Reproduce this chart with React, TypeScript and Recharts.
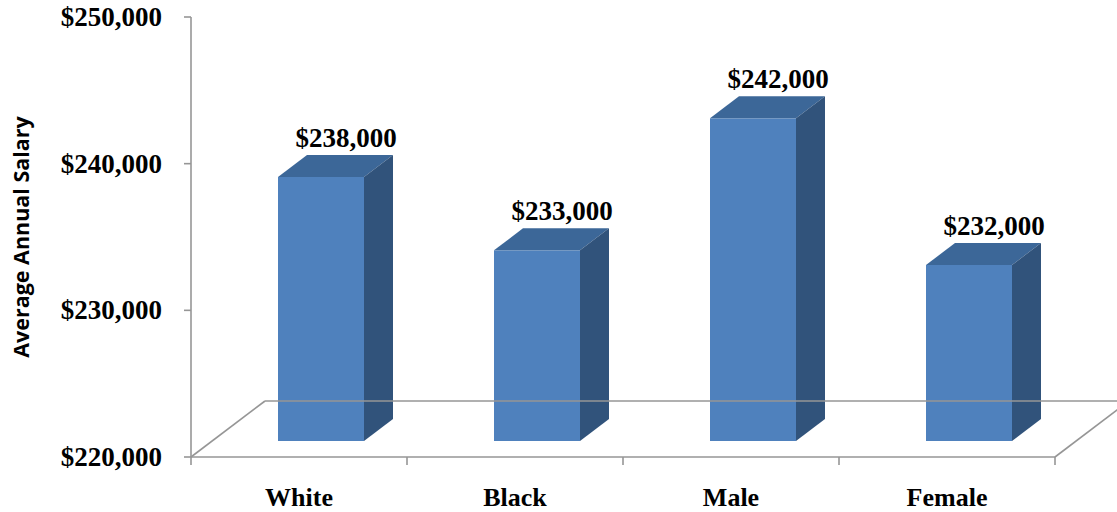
import React from 'react'
import { BarChart, Bar, XAxis, YAxis } from 'recharts'

const categories = ['White', 'Black', 'Male', 'Female']
const salaries = [238000, 233000, 242000, 232000]
const yTicks = [220000, 230000, 240000, 250000]

const data = categories.map((name, i) => ({ name, salary: salaries[i] }))

const FRONT = '#4F81BD'
const TOP = '#3C6798'
const SIDE = '#31537B'
const GRID = '#969696'
const SERIF = '"Liberation Serif", "Times New Roman", serif'

// floor depth and bar depth (pseudo 3D)
const FLOOR_DX = 74
const FLOOR_DY = 56
const SHIFT_X = 22
const SHIFT_Y = 16
const DEPTH_X = 29
const DEPTH_Y = 22

const money = (v: number) => '$' + v.toLocaleString('en-US')

function Bar3D(props: any) {
  const { x, y, width, height, payload } = props
  const fx = x + SHIFT_X
  const fy = y - SHIFT_Y
  const top = `${fx},${fy} ${fx + width},${fy} ${fx + width + DEPTH_X},${fy - DEPTH_Y} ${fx + DEPTH_X},${fy - DEPTH_Y}`
  const side = `${fx + width},${fy} ${fx + width + DEPTH_X},${fy - DEPTH_Y} ${fx + width + DEPTH_X},${fy + height - DEPTH_Y} ${fx + width},${fy + height}`
  return (
    <g>
      <rect x={fx} y={fy} width={width} height={height} fill={FRONT} />
      <polygon points={top} fill={TOP} />
      <polygon points={side} fill={SIDE} />
      <text
        x={fx + width / 2 + 25}
        y={fy - 30}
        textAnchor="middle"
        fontFamily={SERIF}
        fontWeight="bold"
        fontSize={27}
        fill="#000"
      >
        {money(payload.salary)}
      </text>
    </g>
  )
}

function XTick(props: any) {
  const { x, y, payload, index } = props
  const off = payload.offset ?? 108
  const n = categories.length
  const x0 = x - off
  const floor = index === 0 ? (() => {
    const x1 = x0 + off * 2 * n
    return (
      <g stroke={GRID} strokeWidth={1.6} fill="none">
        <line x1={x0} y1={y} x2={x0 + FLOOR_DX} y2={y - FLOOR_DY} />
        <line x1={x0 + FLOOR_DX} y1={y - FLOOR_DY} x2={x1 + FLOOR_DX} y2={y - FLOOR_DY} />
        <line x1={x1} y1={y} x2={x1 + FLOOR_DX} y2={y - FLOOR_DY} />
      </g>
    )
  })() : null
  return (
    <g>
      {floor}
      <line x1={x0} y1={y} x2={x0} y2={y + 8} stroke={GRID} strokeWidth={1.6} />
      {index === n - 1 && (
        <line x1={x + off} y1={y} x2={x + off} y2={y + 8} stroke={GRID} strokeWidth={1.6} />
      )}
      <text
        x={x}
        y={y + 40}
        textAnchor="middle"
        dominantBaseline="central"
        fontFamily={SERIF}
        fontWeight="bold"
        fontSize={26}
        fill="#000"
      >
        {payload.value}
      </text>
    </g>
  )
}

function YTick(props: any) {
  const { x, y, payload } = props
  return (
    <text
      x={x}
      y={y}
      textAnchor="end"
      dominantBaseline="central"
      fontFamily={SERIF}
      fontWeight="bold"
      fontSize={27}
      fill="#000"
    >
      {money(payload.value)}
    </text>
  )
}

function YTitle(props: any) {
  const { viewBox } = props
  const cx = viewBox.x + 20
  const cy = viewBox.y + viewBox.height / 2
  return (
    <text
      x={cx}
      y={cy}
      transform={`rotate(-90, ${cx}, ${cy})`}
      textAnchor="middle"
      dominantBaseline="central"
      fontFamily='"Open Sans", "Liberation Sans", sans-serif'
      fontWeight="bold"
      fontSize={21.5}
      fill="#000"
    >
      Average Annual Salary
    </text>
  )
}

export default function App() {
  return (
    <div style={{ position: 'absolute', left: 0, top: 0, width: 1117, height: 512, background: '#fff' }}>
      <BarChart
        width={1117}
        height={512}
        data={data}
        margin={{ top: 17, right: 62, left: 0, bottom: 0 }}
      >
        <XAxis
          dataKey="name"
          height={55}
          tickLine={false}
          tickSize={0}
          tickMargin={0}
          axisLine={{ stroke: GRID, strokeWidth: 1.6 }}
          tick={<XTick />}
          interval={0}
        />
        <YAxis
          width={191}
          domain={[220000, 250000]}
          ticks={yTicks}
          tickSize={7}
          tickMargin={22}
          tickLine={{ stroke: GRID, strokeWidth: 1.6 }}
          axisLine={{ stroke: GRID, strokeWidth: 1.6 }}
          tick={<YTick />}
          allowDataOverflow
          label={{ content: <YTitle /> }}
        />
        <Bar dataKey="salary" barSize={86} shape={<Bar3D />} isAnimationActive={false} />
      </BarChart>
    </div>
  )
}
